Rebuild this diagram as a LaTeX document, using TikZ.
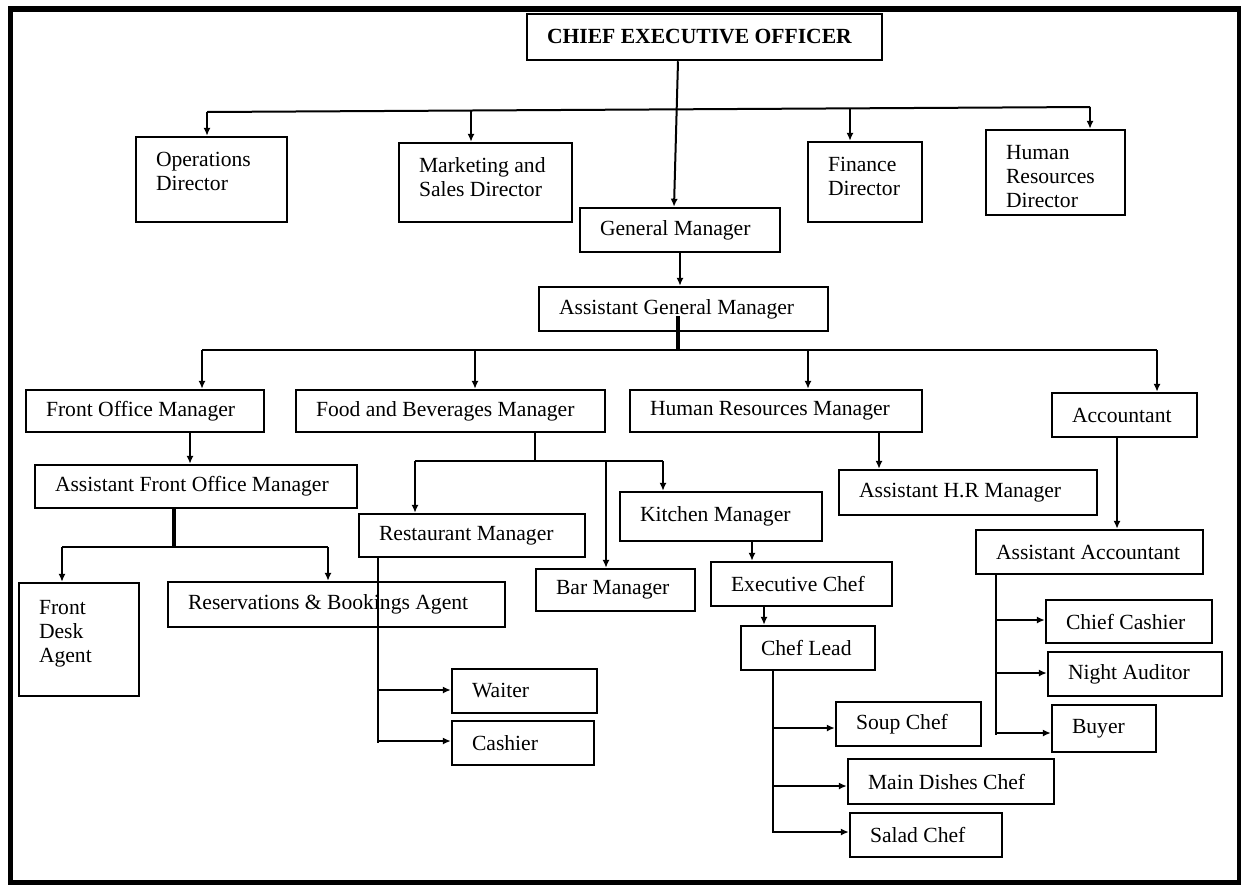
\documentclass[tikz,border=0pt]{standalone}
\usepackage{fontspec}
\setmainfont{Liberation Serif}
\usetikzlibrary{arrows.meta,shadows,calc}

% box with one centred line of text, left padded
\newcommand\ob[6]{%
  \node[orgbox] (#1) at ({(#2+#4)/2},{(#3+#5)/2})
  {\parbox[c][\dimexpr#5pt/2-#3pt/2\relax][c]{\dimexpr#4pt/2-#2pt/2\relax}{\raggedright\leftskip=10pt #6\par}};}
% box with text set from the top
\newcommand\obt[7][7.5pt]{%
  \node[orgbox] (#2) at ({(#3+#5)/2},{(#4+#6)/2})
  {\parbox[c][\dimexpr#6pt/2-#4pt/2\relax][t]{\dimexpr#5pt/2-#3pt/2\relax}{\vspace*{#1}\raggedright\leftskip=10pt #7\par}};}

\tikzset{
  orgbox/.style={draw, line width=1.25pt, fill=white, inner sep=0pt,
    drop shadow={shadow xshift=0.7pt, shadow yshift=-0.7pt, fill=black!40, opacity=1}},
  conn/.style={line width=1pt},
  thickconn/.style={line width=2.2pt},
  arr/.style={conn, -{Latex[length=4pt,width=3.6pt]}},
}

\begin{document}
\begin{tikzpicture}[x=0.5pt, y=-0.5pt, font=\fontsize{10.8}{12}\selectfont]
\useasboundingbox (0,0) rectangle (1241,884);
\draw[line width=2.6pt] (10.5,9) rectangle (1240,883);

% boxes
\ob{ceo}{527}{14}{882}{60}{\textbf{CHIEF EXECUTIVE OFFICER}}
\obt{ops}{136}{137}{287}{222}{Operations\\Director}
\obt{mkt}{399}{143}{572}{222}{Marketing and\\Sales Director}
\obt{fin}{808}{142}{922}{222}{Finance\\Director}
\obt{hrd}{986}{130}{1125}{215}{Human\\Resources\\Director}
\ob{gm}{580}{208}{780}{252}{General Manager}
\ob{agm}{539}{287}{828}{331}{Assistant General Manager}
\ob{fom}{26}{390}{264}{432}{Front Office Manager}
\ob{fbm}{296}{390}{605}{432}{Food and Beverages Manager}
\ob{hrm}{630}{390}{922}{432}{Human Resources Manager}
\ob{acc}{1052}{393}{1197}{437}{Accountant}
\ob{afom}{35}{465}{357}{508}{Assistant Front Office Manager}
\ob{rm}{359}{514}{585}{557}{Restaurant Manager}
\ob{km}{620}{492}{822}{541}{Kitchen Manager}
\ob{ahr}{839}{470}{1097}{515}{Assistant H.R Manager}
\ob{aacc}{976}{530}{1203}{574}{Assistant Accountant}
\obt[8.5pt]{fda}{19}{583}{139}{696}{Front\\Desk\\Agent}
\ob{res}{168}{582}{505}{627}{Reservations \& Bookings Agent}
\ob{bar}{536}{569}{695}{611}{Bar Manager}
\ob{exc}{711}{562}{892}{606}{Executive Chef}
\ob{cl}{741}{626}{875}{670}{Chef Lead}
\ob{cc}{1046}{600}{1212}{643}{Chief Cashier}
\ob{na}{1048}{652}{1222}{696}{Night Auditor}
\ob{buy}{1052}{705}{1156}{752}{Buyer}
\ob{soup}{836}{702}{981}{746}{Soup Chef}
\ob{main}{848}{759}{1054}{804}{Main Dishes Chef}
\ob{salad}{850}{813}{1002}{857}{Salad Chef}
\ob{waiter}{452}{669}{597}{713}{Waiter}
\ob{cashier}{452}{721}{594}{765}{Cashier}

% directors' line
\coordinate (t1) at (207,112);
\coordinate (t2) at (471,110.5);
\coordinate (t3) at (850,108.5);
\coordinate (t4) at (1090,107);
\draw[conn] (t1) -- (t4);
\draw[arr] (t1) -- (t1 |- ops.north);
\draw[arr] (t2) -- (t2 |- mkt.north);
\draw[arr] (t3) -- (t3 |- fin.north);
\draw[arr] (t4) -- (t4 |- hrd.north);

% CEO to general manager
\coordinate (g0) at (678,0);
\coordinate (g1) at (674,0);
\draw[arr] (ceo.south -| g0) -- (gm.north -| g1);
\draw[arr] (gm.south) -- (gm.south |- agm.north);

% managers' line
\coordinate (mb) at (678,350);
\coordinate (m1) at (202,350);
\coordinate (m2) at (475,350);
\coordinate (m3) at (808,350);
\coordinate (m4) at (1157,350);
\draw[thickconn] ($(mb |- agm.south)+(0,8pt)$) -- (mb);
\draw[conn] (m1) -- (m4);
\draw[arr] (m1) -- (m1 |- fom.north);
\draw[arr] (m2) -- (m2 |- fbm.north);
\draw[arr] (m3) -- (m3 |- hrm.north);
\draw[arr] (m4) -- (m4 |- acc.north);

% front office
\coordinate (f0) at (190,0);
\draw[arr] (fom.south -| f0) -- (afom.north -| f0);
\coordinate (fb) at (174,547);
\coordinate (fl) at (62,547);
\coordinate (fr) at (328,547);
\draw[thickconn] (afom.south -| fb) -- (fb);
\draw[conn] (fl) -- (fr);
\draw[arr] (fl) -- (fl |- fda.north);
\draw[arr] (fr) -- (fr |- res.north);

% food and beverages
\coordinate (bb) at (535,461);
\coordinate (b1) at (415,461);
\coordinate (b2) at (606,461);
\coordinate (b3) at (663,461);
\draw[conn] (fbm.south -| bb) -- (bb);
\draw[conn] (b1) -- (b3);
\draw[arr] (b1) -- (b1 |- rm.north);
\draw[arr] (b2) -- (b2 |- bar.north);
\draw[arr] (b3) -- (b3 |- km.north);

% restaurant
\coordinate (r0) at (378,743);
\coordinate (r1) at (378,690);
\coordinate (r2) at (378,741);
\draw[conn] (rm.south -| r0) -- (r0);
\draw[arr] (r1) -- (r1 -| waiter.west);
\draw[arr] (r2) -- (r2 -| cashier.west);

% kitchen
\coordinate (k0) at (752,0);
\coordinate (e0) at (764,0);
\draw[arr] (km.south -| k0) -- (exc.north -| k0);
\draw[arr] (exc.south -| e0) -- (cl.north -| e0);
\coordinate (c0) at (773,833);
\coordinate (c1) at (773,728);
\coordinate (c2) at (773,786);
\coordinate (c3) at (773,832);
\draw[conn] (cl.south -| c0) -- (c0);
\draw[arr] (c1) -- (c1 -| soup.west);
\draw[arr] (c2) -- (c2 -| main.west);
\draw[arr] (c3) -- (c3 -| salad.west);

% human resources
\coordinate (h0) at (879,0);
\draw[arr] (hrm.south -| h0) -- (ahr.north -| h0);

% accounts
\coordinate (a0) at (1117,0);
\draw[arr] (acc.south -| a0) -- (aacc.north -| a0);
\coordinate (s0) at (996,735);
\coordinate (s1) at (996,620);
\coordinate (s2) at (996,673);
\coordinate (s3) at (996,733);
\draw[conn] (aacc.south -| s0) -- (s0);
\draw[arr] (s1) -- (s1 -| cc.west);
\draw[arr] (s2) -- (s2 -| na.west);
\draw[arr] (s3) -- (s3 -| buy.west);
\end{tikzpicture}
\end{document}
